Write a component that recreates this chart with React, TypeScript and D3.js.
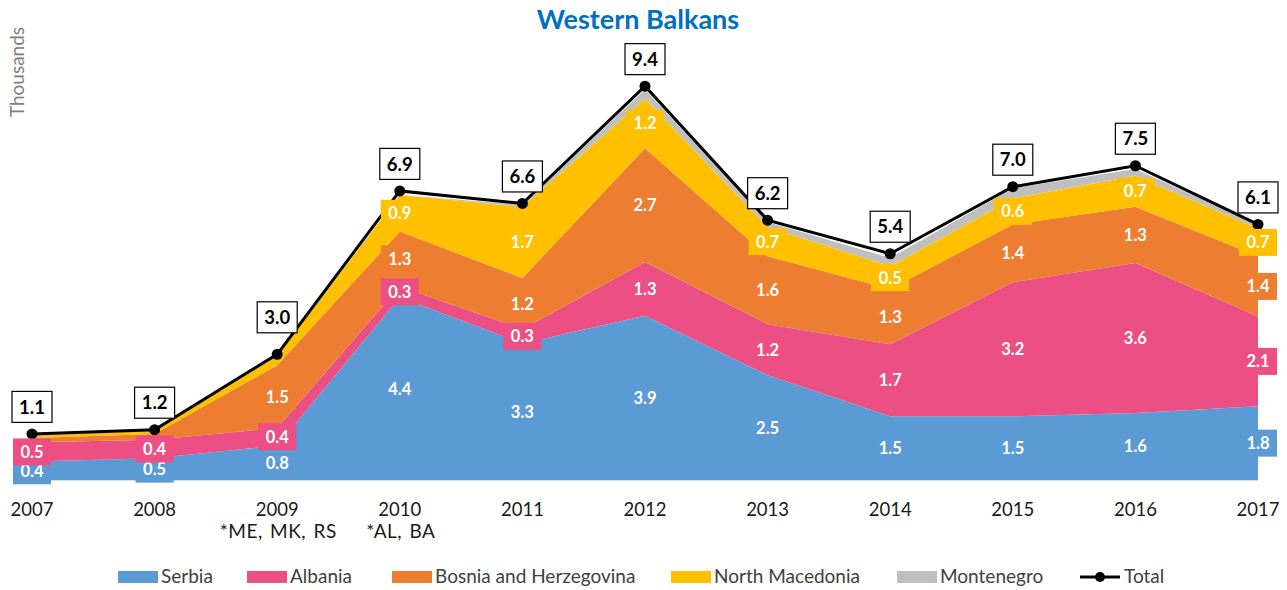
import React from "react";
import * as d3 from "d3";

const years = ["2007", "2008", "2009", "2010", "2011", "2012", "2013", "2014", "2015", "2016", "2017"];
const serbia = [0.44, 0.52, 0.82, 4.36, 3.26, 3.92, 2.5, 1.52, 1.52, 1.6, 1.76];
const albania = [0.46, 0.44, 0.42, 0.26, 0.34, 1.28, 1.22, 1.72, 3.2, 3.58, 2.14];
const bosnia = [0.1, 0.14, 1.5, 1.31, 1.22, 2.72, 1.62, 1.32, 1.38, 1.34, 1.44];
const northMacedonia = [0.08, 0.08, 0.22, 0.87, 1.7, 1.18, 0.7, 0.54, 0.62, 0.74, 0.66];
const montenegro = [0, 0, 0, 0, 0.05, 0.22, 0.12, 0.2, 0.24, 0.16, 0.1];
const total = [1.1, 1.2, 3.0, 6.9, 6.6, 9.4, 6.2, 5.4, 7.0, 7.5, 6.1];
const footnotes = ["", "", "*ME, MK, RS", "*AL, BA", "", "", "", "", "", "", ""];

const seriesNames = ["Serbia", "Albania", "Bosnia and Herzegovina", "North Macedonia", "Montenegro"];
const seriesValues = [serbia, albania, bosnia, northMacedonia, montenegro];
const colors = ["#5B9BD5", "#EB4F83", "#ED7D31", "#FFC000", "#BFBFBF"];
const showLabels = [true, true, true, true, false];

const W = 1287;
const H = 590;
const FONT = "Lato, 'Open Sans', sans-serif";

export default function App() {
  const x = d3.scalePoint<string>().domain(years).range([32, 1258]);
  const y = d3.scaleLinear().domain([0, 10]).range([480, 61]);

  const table = years.map((yr, i) => {
    const row: any = { year: yr };
    seriesNames.forEach((n, k) => (row[n] = seriesValues[k][i]));
    return row;
  });
  const stacked = d3.stack<any>().keys(seriesNames)(table);

  const area = d3
    .area<any>()
    .x((d: any) => x(d.data.year) as number)
    .y0((d: any) => y(d[0]))
    .y1((d: any) => y(d[1]));

  const line = d3
    .line<number>()
    .x((_, i) => x(years[i]) as number)
    .y((d) => y(d));

  const legendX = [118, 247, 392, 671, 897];

  return (
    <svg width={W} height={H} style={{ position: "absolute", left: 0, top: 0, background: "#fff" }} fontFamily={FONT}>
      <text x={638} y={29} textAnchor="middle" fontSize={27} fontWeight={700} fill="#0070C0">
        Western Balkans
      </text>
      <text
        transform={`translate(24,72) rotate(-90)`}
        textAnchor="middle"
        fontSize={19}
        fill="#808080"
      >
        Thousands
      </text>

      {stacked.map((s, k) => (
        <path key={seriesNames[k]} d={area(s as any) as string} fill={colors[k]} />
      ))}

      <line x1={32} x2={1258} y1={480.5} y2={480.5} stroke="#D9D9D9" strokeWidth={1} />

      <path d={line(total) as string} fill="none" stroke="#000" strokeWidth={3} />
      {total.map((v, i) => (
        <circle key={i} cx={x(years[i]) as number} cy={y(v)} r={5.5} fill="#000" />
      ))}

      {stacked.map((s, k) =>
        showLabels[k]
          ? s.map((d: any, i: number) => {
              const v = seriesValues[k][i];
              if (v < 0.25) return null;
              const cx = x(years[i]) as number;
              const cy = y((d[0] + d[1]) / 2);
              return (
                <g key={`${k}-${i}`}>
                  <rect x={cx - 19} y={cy - 13.5} width={38} height={27} fill={colors[k]} />
                  <text x={cx} y={cy} dy="0.36em" textAnchor="middle" fontSize={16.5} fontWeight={700} fill="#fff">
                    {v.toFixed(1)}
                  </text>
                </g>
              );
            })
          : null
      )}

      {total.map((v, i) => {
        const cx = x(years[i]) as number;
        const cy = y(v) - (i === 2 ? 37 : 27);
        return (
          <g key={`t-${i}`}>
            <rect x={cx - 20} y={cy - 15.5} width={40} height={31} fill="#fff" stroke="#000" strokeWidth={1.2} />
            <text x={cx} y={cy} dy="0.36em" textAnchor="middle" fontSize={18.5} fontWeight={700} fill="#000">
              {v.toFixed(1)}
            </text>
          </g>
        );
      })}

      {years.map((yr, i) => (
        <g key={`x-${yr}`}>
          <text x={x(yr) as number} y={516} textAnchor="middle" fontSize={18.5} fill="#1a1a1a">
            {yr}
          </text>
          {footnotes[i] ? (
            <text x={(x(yr) as number) + 1} y={538} textAnchor="middle" fontSize={19} wordSpacing={2} letterSpacing={0.5} fill="#1a1a1a">
              {footnotes[i]}
            </text>
          ) : null}
        </g>
      ))}

      {seriesNames.map((n, k) => (
        <g key={`lg-${n}`}>
          <rect x={legendX[k]} y={571} width={40} height={12} fill={colors[k]} />
          <text x={legendX[k] + 43} y={583} fontSize={19} fill="#404040">
            {n}
          </text>
        </g>
      ))}
      <g>
        <line x1={1080} x2={1120} y1={577} y2={577} stroke="#000" strokeWidth={3} />
        <circle cx={1100} cy={577} r={5} fill="#000" />
        <text x={1124} y={583} fontSize={19} fill="#404040">
          Total
        </text>
      </g>
    </svg>
  );
}
